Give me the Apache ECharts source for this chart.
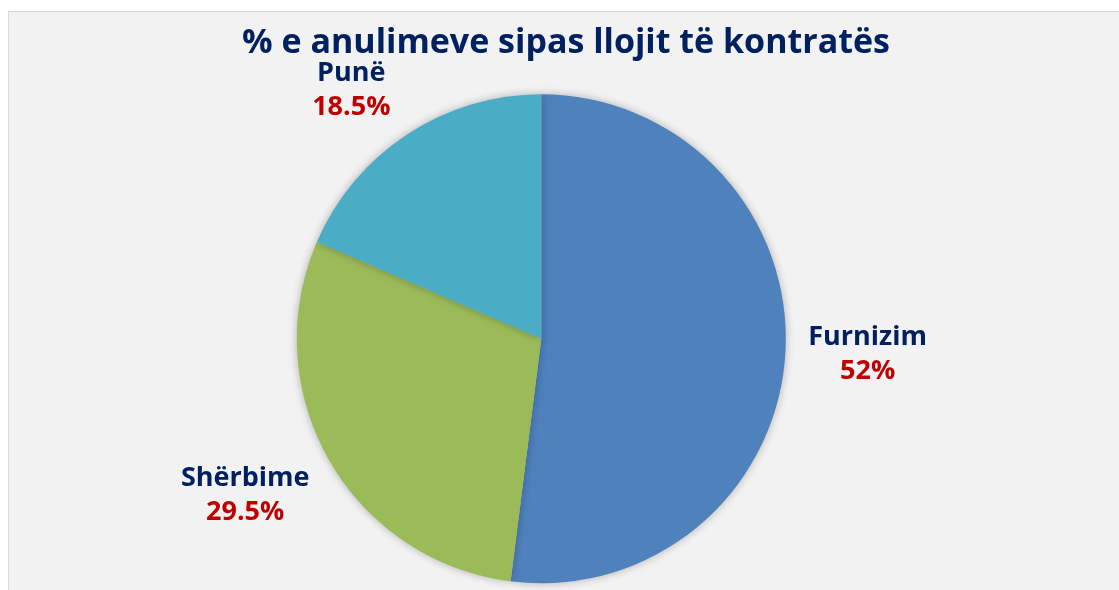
<!DOCTYPE html>
<html>
<head>
<meta charset="utf-8">
<script src="https://cdn.jsdelivr.net/npm/echarts@6/dist/echarts.min.js"></script>
<style>
  html, body { margin: 0; padding: 0; background: #ffffff; overflow: hidden; width: 1119px; height: 590px; }
  #chart { position: absolute; left: 8px; top: 11px; width: 1119px; height: 590px;
           border: 1px solid #d9d9d9; background: #f2f2f2; }
</style>
</head>
<body>
<div id="chart"></div>
<script>
// Share of cancellations by contract type
const titleText = '% e anulimeve sipas llojit të kontratës';
const categories = ['Furnizim', 'Shërbime', 'Punë'];
const shares = [52, 29.5, 18.5];
const sliceColors = ['#4f81bd', '#9bbb59', '#4bacc6'];

// per-label nudges applied after the pie positions its outside labels
const labelShift = [{ dx: 0, dy: -1 }, { dx: 2, dy: 29 }, { dx: 1, dy: -34 }];

const FONT = "'Open Sans', 'Noto Sans', sans-serif";
const NAVY = '#002060';
const RED = '#c00000';

const chart = echarts.init(document.getElementById('chart'), null, { renderer: 'canvas' });

chart.setOption({
  animation: false,
  backgroundColor: 'transparent',
  title: {
    text: titleText,
    left: 552,
    top: 9,
    textAlign: 'center',
    textStyle: { fontFamily: FONT, fontWeight: 'bold', fontSize: 34, color: NAVY }
  },
  series: [{
    type: 'pie',
    center: [532.3, 326.8],
    radius: 244.5,
    startAngle: 90,
    clockwise: true,
    avoidLabelOverlap: false,
    emphasis: { disabled: true },
    itemStyle: {
      borderWidth: 0,
      shadowBlur: 8,
      shadowColor: 'rgba(0,0,0,0.28)'
    },
    label: {
      show: true,
      position: 'outside',
      distanceToLabelLine: 5,
      formatter: p => '{n|' + p.name + '}\n{v|' + p.value + '%}',
      rich: {
        n: { fontFamily: FONT, fontWeight: 'bold', fontSize: 27, lineHeight: 34, color: NAVY, align: 'center' },
        v: { fontFamily: FONT, fontWeight: 'bold', fontSize: 27, lineHeight: 34, color: RED, align: 'center' }
      }
    },
    labelLine: { show: false, length: 12, length2: 6 },
    labelLayout: p => labelShift[p.dataIndex],
    data: categories.map((name, i) => ({
      name: name,
      value: shares[i],
      itemStyle: { color: sliceColors[i] }
    }))
  }]
});
</script>
</body>
</html>
